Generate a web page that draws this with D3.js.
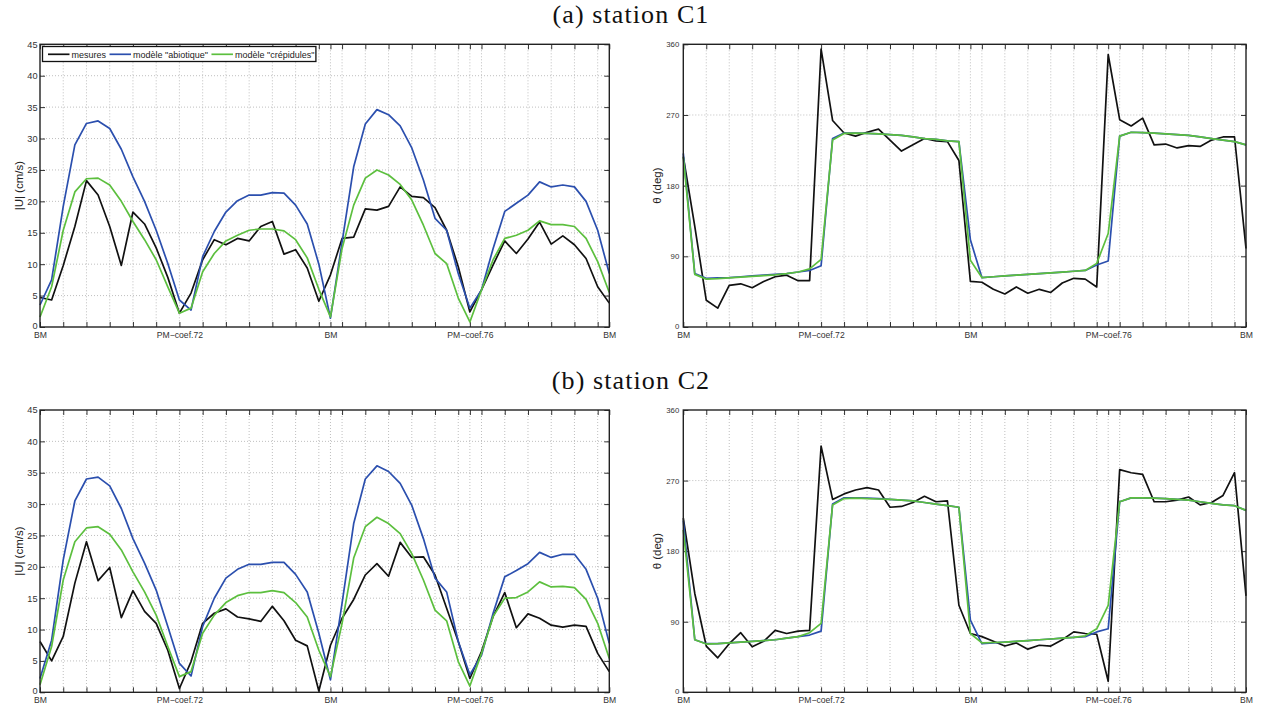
<!DOCTYPE html>
<html>
<head>
<meta charset="utf-8">
<script src="https://cdn.jsdelivr.net/npm/d3@7"></script>
<style>
  html, body { margin: 0; padding: 0; background: #fff; }
  svg { display: block; }
</style>
</head>
<body>
<svg id="chart" width="1263" height="704"></svg>
<script>
// ---------- DATA ----------
// time in hours since the first low tide (BM), one sample every half hour
const hours = [0,0.5,1,1.5,2,2.5,3,3.5,4,4.5,5,5.5,6,6.5,7,7.5,8,8.5,9,9.5,10,10.5,11,11.5,12,
               12.5,13,13.5,14,14.5,15,15.5,16,16.5,17,17.5,18,18.5,19,19.5,20,20.5,21,21.5,22,22.5,23,23.5,24,24.5];
const gridHours = [1,2,3,4,5,6,7,8,9,10,11,12,13,14,15,16,17,18,19,20,21,22,23,24];
const labelHours = [0, 6, 12.5, 18.5, 24.5];
const labelTexts = ["BM", "PM\u2212coef.72", "BM", "PM\u2212coef.76", "BM"];
const seriesNames = ["mesures", "mod\u00e8le \"abiotique\"", "mod\u00e8le \"cr\u00e9pidules\""];
const speedTicks = [0,5,10,15,20,25,30,35,40,45];
const dirTicks = [0,90,180,270,360];
const titles = ["(a) station C1", "(b) station C2"];

// station C1, |U| (cm/s)
const c1SpeedMes  = [4.7,4.3,9.8,16.0,23.3,21.0,16.0,9.8,18.3,16.4,12.6,7.9,2.2,5.4,10.7,13.9,13.1,14.1,13.7,16.0,16.8,11.6,12.3,9.4,4.1,
                     8.3,14.1,14.3,18.8,18.6,19.2,22.3,20.8,20.6,19.0,15.4,9.6,2.4,5.9,9.9,13.7,11.7,14.0,16.7,13.2,14.5,13.1,10.9,6.4,3.8];
const c1SpeedAbio = [3.5,7.5,19.2,29.0,32.4,32.8,31.6,28.3,23.9,20.0,15.4,10.1,4.3,2.7,11.2,15.2,18.3,20.1,21.0,21.0,21.4,21.3,19.4,16.4,10.0,
                     1.4,13.5,25.5,32.3,34.6,33.8,32.0,28.5,23.4,17.3,15.4,8.5,3.0,5.9,12.5,18.4,19.7,21.0,23.1,22.3,22.6,22.3,20.0,15.4,8.5];
const c1SpeedCrep = [1.6,6.4,15.4,21.5,23.6,23.7,22.6,20.0,16.8,13.9,10.7,6.4,2.2,3.0,8.8,11.7,13.7,14.6,15.4,15.6,15.6,15.3,13.9,11.0,6.0,
                     1.6,12.5,19.4,23.7,25.0,24.2,22.7,20.2,16.2,11.7,10.1,4.6,0.8,5.9,10.7,14.1,14.6,15.4,16.9,16.3,16.3,16.0,14.1,10.4,5.5];
// station C1, direction (deg)
const c1DirMes  = [217,128,34,24,53,55,50,58,64,66,59,59,354,263,247,243,248,252,238,224,232,240,237,236,212,
                   58,57,48,42,51,43,48,44,56,62,61,51,347,264,256,266,232,233,228,231,230,238,242,242,100];
const c1DirAbio = [221,68,62,62.5,63,64,65,66,67,68,70,72,78,240,247,247,246.5,246,245,244,242,240,239,237,236,
                   111,63,64,65,66,67,68,69,70,71,72,79,84,243,248,247.5,247,246,245,244,242,240,238,236,232];
const c1DirCrep = [216,67,61,61.5,62.5,63.5,64.5,65.5,66.5,68,70,74,86,238,246.5,247,246.5,246,245,244,242,240,239,237,236,
                   85,63,64,65,66,67,68,69,70,71,72,81,119,243,248,247.5,247,246,245,244,242,240,238,236,232];

// station C2, |U| (cm/s)
const c2SpeedMes  = [8.1,5.0,8.9,17.4,24.0,17.8,19.9,11.9,16.2,12.9,11.0,6.7,0.6,4.9,11.0,12.6,13.3,12.0,11.7,11.3,13.7,11.4,8.3,7.4,0.2,
                     7.5,11.8,14.8,18.7,20.5,18.5,23.9,21.5,21.6,18.7,13.4,8.1,2.2,6.5,12.1,15.9,10.3,12.5,11.8,10.7,10.4,10.7,10.5,6.2,3.3];
const c2SpeedAbio = [2.2,8.3,21.1,30.5,34.0,34.3,32.9,29.3,24.5,20.6,16.3,10.5,4.6,2.6,10.5,15.0,18.2,19.6,20.4,20.4,20.7,20.7,18.8,16.0,9.4,
                     2.0,14.2,26.9,34.0,36.1,35.2,33.3,29.8,24.5,18.2,16.0,8.1,2.8,5.9,12.6,18.4,19.4,20.5,22.3,21.5,22.0,22.0,19.6,15.0,7.8];
const c2SpeedCrep = [1.2,7.3,17.9,24.0,26.2,26.4,25.2,22.7,19.2,16.0,12.3,7.3,2.5,3.3,9.4,12.3,14.3,15.4,15.9,15.9,16.2,15.9,14.3,12.0,6.7,
                     2.5,11.0,21.4,26.4,27.9,26.9,25.3,22.1,17.9,13.1,11.4,4.9,1.0,6.2,12.1,15.0,15.1,16.0,17.6,16.8,16.9,16.7,14.8,11.0,5.4];
// station C2, direction (deg)
const c2DirMes  = [222,126,59,44,62,76,58,65,79,75,78,79,314,246,253,258,261,258,236,237,242,250,243,244,111,
                   75,71,65,59,63,55,60,59,67,77,75,74,14,284,280,278,243,243,245,249,239,242,251,280,123];
const c2DirAbio = [219,67,62,62,63,64,65,66,67,69,71,73,78,240,248,248,247.5,247,246,245,244,242,240,238,236,
                   92,62,63,64,65,66,67,68,69,70,71,77,81,243,248,248,247.5,247,246,245,243,241,239,238,232];
const c2DirCrep = [207,67,61.5,62,63,64,65,66,67,69,71,76,88,239,247,247.5,247,246.5,246,245,244,242,240,238,236,
                   75,63,63.5,64,65,66,67,68,69,70,72,81,111,243,248,248,247.5,247,246,245,243,241,239,238,232];

// ---------- STYLE ----------
const colors = ["#111111", "#2b4fae", "#5cbf3e"];
const tickFont = "Liberation Sans, Arial, Helvetica, sans-serif";

const panels = [
  { x0: 40,    x1: 609.3, y0: 44.3, y1: 327,   ymax: 45,  ticks: speedTicks, label: "|U| (cm/s)", labelX: 23,  tickSize: 9.2, tickPad: 2.5, series: [c1SpeedMes, c1SpeedAbio, c1SpeedCrep], legend: true },
  { x0: 683.3, x1: 1246,  y0: 44.3, y1: 327,   ymax: 360, ticks: dirTicks,   label: "\u03b8 (deg)",   labelX: 661, tickSize: 7.8, tickPad: 4,   series: [c1DirMes, c1DirAbio, c1DirCrep] },
  { x0: 40,    x1: 609.3, y0: 410,  y1: 692.3, ymax: 45,  ticks: speedTicks, label: "|U| (cm/s)", labelX: 23,  tickSize: 9.2, tickPad: 2.5, series: [c2SpeedMes, c2SpeedAbio, c2SpeedCrep] },
  { x0: 683.3, x1: 1246,  y0: 410,  y1: 692.3, ymax: 360, ticks: dirTicks,   label: "\u03b8 (deg)",   labelX: 661, tickSize: 7.8, tickPad: 4,   series: [c2DirMes, c2DirAbio, c2DirCrep] }
];

const svg = d3.select("#chart");

// titles
svg.selectAll("text.title").data(titles).join("text")
  .attr("class", "title")
  .attr("x", 631)
  .attr("y", (d, i) => 23 + i * 365.7)
  .attr("text-anchor", "middle")
  .attr("font-family", "Liberation Serif, Times New Roman, serif")
  .attr("font-size", 26)
  .attr("letter-spacing", 1.1)
  .attr("fill", "#111")
  .text(d => d);

panels.forEach(p => {
  const x = d3.scaleLinear().domain([0, 24.5]).range([p.x0, p.x1]);
  const y = d3.scaleLinear().domain([0, p.ymax]).range([p.y1, p.y0]);
  const g = svg.append("g");
  const allXTicks = Array.from(new Set(gridHours.concat(labelHours))).sort((a, b) => a - b);

  // grid
  g.append("g").selectAll("line").data(allXTicks.filter(h => h > 0 && h < 24.5)).join("line")
    .attr("x1", d => x(d)).attr("x2", d => x(d))
    .attr("y1", p.y0).attr("y2", p.y1)
    .attr("stroke", "#b8b8b8").attr("stroke-width", 0.9).attr("stroke-dasharray", "1,2");
  g.append("g").selectAll("line").data(p.ticks.filter(t => t > 0 && t < p.ymax)).join("line")
    .attr("x1", p.x0).attr("x2", p.x1)
    .attr("y1", d => y(d)).attr("y2", d => y(d))
    .attr("stroke", "#b8b8b8").attr("stroke-width", 0.9).attr("stroke-dasharray", "1,2");

  // axes (inward ticks on all four sides)
  const labelFor = h => { const k = labelHours.indexOf(h); return k >= 0 ? labelTexts[k] : ""; };
  const bottom = g.append("g").attr("transform", `translate(0,${p.y1})`)
    .call(d3.axisBottom(x).tickValues(allXTicks).tickFormat(labelFor).tickSizeInner(-5).tickSizeOuter(0).tickPadding(4.6));
  const top = g.append("g").attr("transform", `translate(0,${p.y0})`)
    .call(d3.axisTop(x).tickValues(allXTicks).tickFormat("").tickSizeInner(-5).tickSizeOuter(0));
  const left = g.append("g").attr("transform", `translate(${p.x0},0)`)
    .call(d3.axisLeft(y).tickValues(p.ticks).tickFormat(d3.format("d")).tickSizeInner(-5).tickSizeOuter(0).tickPadding(p.tickPad));
  const right = g.append("g").attr("transform", `translate(${p.x1},0)`)
    .call(d3.axisRight(y).tickValues(p.ticks).tickFormat("").tickSizeInner(-5).tickSizeOuter(0));
  [bottom, top, left, right].forEach(a => {
    a.select(".domain").remove();
    a.selectAll(".tick line").attr("stroke", "#333").attr("stroke-width", 1);
    a.selectAll("text").attr("font-family", tickFont).attr("fill", "#333");
  });
  bottom.selectAll("text").attr("font-size", 8.6);
  left.selectAll("text").attr("font-size", p.tickSize);
  // lift the "0" label slightly so it sits just above the x-axis label, as in the original
  left.selectAll(".tick").filter(d => d === 0).select("text").attr("dy", "0.15em");

  // data lines
  const line = d3.line().x((d, i) => x(hours[i])).y(d => y(d));
  g.append("g").selectAll("path").data(p.series).join("path")
    .attr("d", d => line(d))
    .attr("fill", "none")
    .attr("stroke", (d, i) => colors[i])
    .attr("stroke-width", 1.7)
    .attr("stroke-linejoin", "round");

  // box
  g.append("rect").attr("x", p.x0).attr("y", p.y0)
    .attr("width", p.x1 - p.x0).attr("height", p.y1 - p.y0)
    .attr("fill", "none").attr("stroke", "#222").attr("stroke-width", 1.4);

  // y label
  g.append("text")
    .attr("transform", `translate(${p.labelX},${(p.y0 + p.y1) / 2}) rotate(-90)`)
    .attr("text-anchor", "middle")
    .attr("font-family", tickFont).attr("font-size", 11.5).attr("fill", "#222")
    .text(p.label);

  // legend
  if (p.legend) {
    const lg = g.append("g");
    const box = lg.append("rect").attr("x", p.x0 + 2.5).attr("y", p.y0 + 2.2)
      .attr("height", 15).attr("fill", "#fff").attr("stroke", "#111").attr("stroke-width", 1.3);
    let cx = p.x0 + 8;
    const cy = p.y0 + 10;
    seriesNames.forEach((name, i) => {
      lg.append("line").attr("x1", cx).attr("x2", cx + 21.5).attr("y1", cy).attr("y2", cy)
        .attr("stroke", colors[i]).attr("stroke-width", 1.7);
      cx += 23.5;
      const t = lg.append("text").attr("x", cx).attr("y", cy + 3.2)
        .attr("font-family", tickFont).attr("font-size", 9).attr("fill", "#222").text(name);
      cx += t.node().getComputedTextLength() + 3.5;
    });
    box.attr("width", cx - 2 - (p.x0 + 2.5));
  }
});
</script>
</body>
</html>
